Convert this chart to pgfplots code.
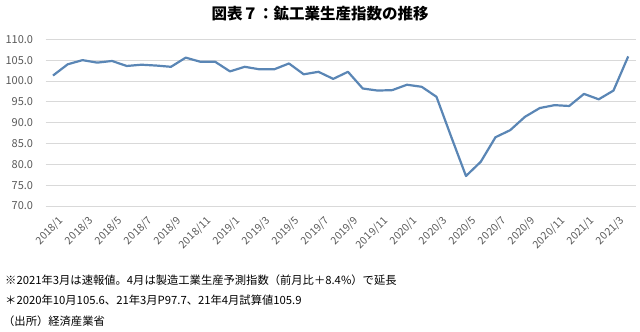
\documentclass[border=0pt]{standalone}
\usepackage{fontspec}
\setmainfont{Noto Sans CJK JP}
\usepackage{pgfplots}
\pgfplotsset{compat=1.18}
\definecolor{linecol}{HTML}{5A86B5}
\definecolor{gridcol}{HTML}{D9D9D9}
\definecolor{labcol}{HTML}{595959}
\begin{document}
\begin{tikzpicture}[x=1pt,y=1pt]
\path[use as bounding box] (0,0) rectangle (640,332);
\begin{axis}[
  at={(45.6pt,126pt)}, anchor=south west,
  scale only axis, width=590pt, height=166.7pt,
  xmin=-0.5, xmax=39.5, ymin=70, ymax=110,
  axis line style={draw=none},
  tick style={draw=none},
  ytick={70,75,...,110},
  ymajorgrids, grid style={gridcol, line width=0.8pt},
  /pgf/number format/assume math mode=true,
  yticklabel={\pgfmathprintnumber[fixed,fixed zerofill,precision=1]{\tick}},
  yticklabel style={font=\fontsize{11}{13}\selectfont, text=labcol, xshift=-9pt},
  xtick={0,2,...,38},
  xticklabels={2018/1,2018/3,2018/5,2018/7,2018/9,2018/11,2019/1,2019/3,2019/5,2019/7,2019/9,2019/11,2020/1,2020/3,2020/5,2020/7,2020/9,2020/11,2021/1,2021/3},
  xticklabel style={xshift=5pt, yshift=-8pt, font=\fontsize{10.5}{12}\selectfont, text=labcol, rotate=45, anchor=north east, inner sep=1pt},
  clip=false,
]
\addplot[linecol, line width=2.2pt, line join=round] coordinates {
(0,101.3) (1,104.0) (2,105.0) (3,104.4) (4,104.8) (5,103.6) (6,103.9) (7,103.7) (8,103.4) (9,105.6)
(10,104.6) (11,104.6) (12,102.3) (13,103.4) (14,102.8) (15,102.8) (16,104.2) (17,101.6) (18,102.2) (19,100.5)
(20,102.2) (21,98.2) (22,97.7) (23,97.8) (24,99.1) (25,98.6) (26,96.2) (27,86.6) (28,77.2) (29,80.6)
(30,86.5) (31,88.2) (32,91.4) (33,93.5) (34,94.2) (35,94.0) (36,96.9) (37,95.6) (38,97.7) (39,105.9)
};
\end{axis}
\node[font=\fontsize{15.5}{18}\selectfont\bfseries] at (320,318) {図表７：鉱工業生産指数の推移};
\node[anchor=west, font=\fontsize{11.3}{13}\selectfont, inner sep=0pt] at (5,52) {※2021年3月は速報値。4月は製造工業生産予測指数（前月比＋8.4\%）で延長};
\node[anchor=west, font=\fontsize{11.3}{13}\selectfont, inner sep=0pt] at (5,32) {＊2020年10月105.6、21年3月P97.7、21年4月試算値105.9};
\node[anchor=west, font=\fontsize{11.3}{13}\selectfont, inner sep=0pt] at (3,11) {（出所）経済産業省};
\end{tikzpicture}
\end{document}
